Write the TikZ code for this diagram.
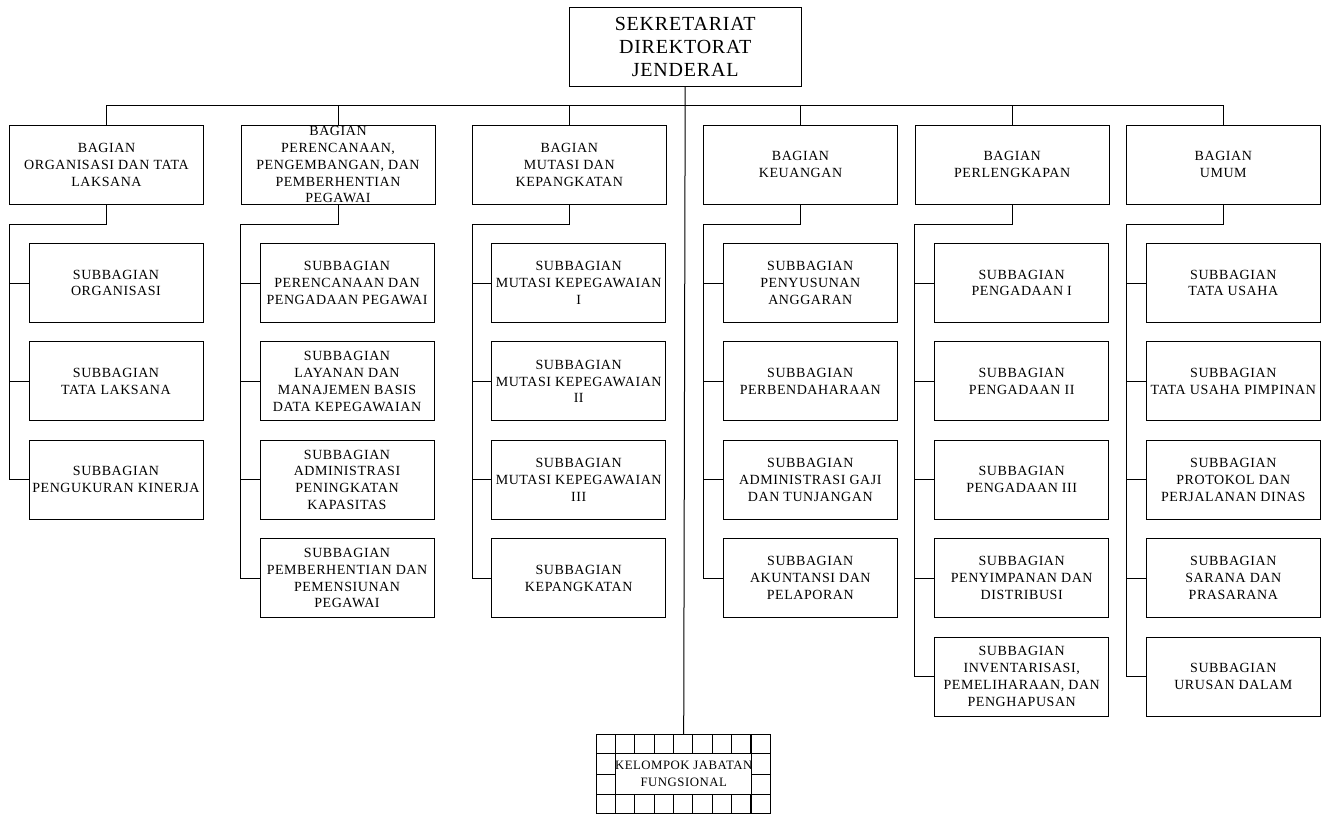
\documentclass[tikz,border=0pt]{standalone}
\usepackage{fontspec}
\setmainfont{Liberation Serif}[LetterSpace=4]
\usetikzlibrary{calc}

\tikzset{
	unit/.style={draw, line width=1pt, align=center, inner sep=0pt},
	top/.style={unit, minimum width=231.7, minimum height=78.7, font=\fontsize{20}{23}\selectfont},
	bagian/.style={unit, minimum width=194, minimum height=79.5, font=\fontsize{14}{16.8}\selectfont},
	subbag/.style={unit, minimum width=174, minimum height=79, font=\fontsize{14}{16.8}\selectfont},
	link/.style={line width=1pt},
}

\begin{document}
\begin{tikzpicture}[x=1pt, y=-1pt]
			%%%%% START %%%%%
			\useasboundingbox (0, 0) rectangle (1326, 814);
			
			\node[top] (sekr) at (685.2, 46.7) {SEKRETARIAT\\DIREKTORAT\\JENDERAL};
			
			\node[bagian] (b1) at (106.5, 164.75) {BAGIAN\\ORGANISASI DAN TATA\\LAKSANA};
			\node[bagian] (b2) at (338, 164.75) {BAGIAN\\PERENCANAAN,\\PENGEMBANGAN, DAN\\PEMBERHENTIAN\\PEGAWAI};
			\node[bagian] (b3) at (569.3, 164.75) {BAGIAN\\MUTASI DAN\\KEPANGKATAN};
			\node[bagian] (b4) at (800.5, 164.75) {BAGIAN\\KEUANGAN};
			\node[bagian] (b5) at (1012.2, 164.75) {BAGIAN\\PERLENGKAPAN};
			\node[bagian] (b6) at (1223.3, 164.75) {BAGIAN\\UMUM};
			
			\node[subbag] (s11) at (116, 283) {SUBBAGIAN\\ORGANISASI};
			\node[subbag] (s12) at (116, 381.4) {SUBBAGIAN\\TATA LAKSANA};
			\node[subbag] (s13) at (116, 479.8) {SUBBAGIAN\\PENGUKURAN KINERJA};
			
			\node[subbag] (s21) at (347, 283) {SUBBAGIAN\\PERENCANAAN DAN\\PENGADAAN PEGAWAI};
			\node[subbag] (s22) at (347, 381.4) {SUBBAGIAN\\LAYANAN DAN\\MANAJEMEN BASIS\\DATA KEPEGAWAIAN};
			\node[subbag] (s23) at (347, 479.8) {SUBBAGIAN\\ADMINISTRASI\\PENINGKATAN\\KAPASITAS};
			\node[subbag] (s24) at (347, 578.2) {SUBBAGIAN\\PEMBERHENTIAN DAN\\PEMENSIUNAN\\PEGAWAI};
			
			\node[subbag] (s31) at (578.7, 283) {SUBBAGIAN\\MUTASI KEPEGAWAIAN\\I};
			\node[subbag] (s32) at (578.7, 381.4) {SUBBAGIAN\\MUTASI KEPEGAWAIAN\\II};
			\node[subbag] (s33) at (578.7, 479.8) {SUBBAGIAN\\MUTASI KEPEGAWAIAN\\III};
			\node[subbag] (s34) at (578.7, 578.2) {SUBBAGIAN\\KEPANGKATAN};
			
			\node[subbag] (s41) at (810.3, 283) {SUBBAGIAN\\PENYUSUNAN\\ANGGARAN};
			\node[subbag] (s42) at (810.3, 381.4) {SUBBAGIAN\\PERBENDAHARAAN};
			\node[subbag] (s43) at (810.3, 479.8) {SUBBAGIAN\\ADMINISTRASI GAJI\\DAN TUNJANGAN};
			\node[subbag] (s44) at (810.3, 578.2) {SUBBAGIAN\\AKUNTANSI DAN\\PELAPORAN};
			
			\node[subbag] (s51) at (1021.7, 283) {SUBBAGIAN\\PENGADAAN I};
			\node[subbag] (s52) at (1021.7, 381.4) {SUBBAGIAN\\PENGADAAN II};
			\node[subbag] (s53) at (1021.7, 479.8) {SUBBAGIAN\\PENGADAAN III};
			\node[subbag] (s54) at (1021.7, 578.2) {SUBBAGIAN\\PENYIMPANAN DAN\\DISTRIBUSI};
			\node[subbag] (s55) at (1021.7, 676.6) {SUBBAGIAN\\INVENTARISASI,\\PEMELIHARAAN, DAN\\PENGHAPUSAN};
			
			\node[subbag] (s61) at (1233.3, 283) {SUBBAGIAN\\TATA USAHA};
			\node[subbag] (s62) at (1233.3, 381.4) {SUBBAGIAN\\TATA USAHA PIMPINAN};
			\node[subbag] (s63) at (1233.3, 479.8) {SUBBAGIAN\\PROTOKOL DAN\\PERJALANAN DINAS};
			\node[subbag] (s64) at (1233.3, 578.2) {SUBBAGIAN\\SARANA DAN\\PRASARANA};
			\node[subbag] (s65) at (1233.3, 676.6) {SUBBAGIAN\\URUSAN DALAM};
			
			\node[unit, minimum width=174, minimum height=78.6, font=\fontsize{12.8}{17}\selectfont] (kjf) at (683.7, 774) {KELOMPOK JABATAN\\FUNGSIONAL};
			
			% bus under the top box
			\coordinate (bus) at (685.2, 105.7);
			\draw[link] (b1.north) |- (bus) -| (b6.north);
			\foreach \b in {b2, b3, b4, b5}
				\draw[link] (\b.north) -- (\b.north |- bus);
			\draw[link] (sekr.south) -- (kjf.north);
			
			% rails down the left of each column
			\foreach \b/\last in {b1/s13, b2/s24, b3/s34, b4/s44, b5/s55, b6/s65} {
				\coordinate (\b j) at ($(\b.south west)+(0.2, 19.5)$);
				\draw[link] (\b.south) |- (\b j) |- (\last.west);
			}
			\foreach \b/\s in {b1/s11, b1/s12, b2/s21, b2/s22, b2/s23, b3/s31, b3/s32, b3/s33,
				b4/s41, b4/s42, b4/s43, b5/s51, b5/s52, b5/s53, b5/s54, b6/s61, b6/s62, b6/s63, b6/s64}
				\draw[link] (\s.west) -- (\s.west -| \b j);
			
			% cells round the functional group box
			\foreach \i in {1,...,8} {
				\draw[link] ($(kjf.north west)+(\i*19.33, 0)$) -- ++(0, 19.65);
				\draw[link] ($(kjf.south west)+(\i*19.33, 0)$) -- ++(0, -19.65);
			}
			\draw[link] ($(kjf.north west)+(0, 19.65)$) -- ($(kjf.north east)+(0, 19.65)$);
			\draw[link] ($(kjf.south west)+(0, -19.65)$) -- ($(kjf.south east)+(0, -19.65)$);
			\draw[link] ($(kjf.north west)+(19.33, 0)$) -- ($(kjf.south west)+(19.33, 0)$);
			\draw[link] ($(kjf.north east)+(-19.33, 0)$) -- ($(kjf.south east)+(-19.33, 0)$);
			\draw[link] (kjf.west) -- ++(19.33, 0);
			\draw[link] (kjf.east) -- ++(-19.33, 0);
			%%%%% END %%%%%
\end{tikzpicture}
\end{document}
